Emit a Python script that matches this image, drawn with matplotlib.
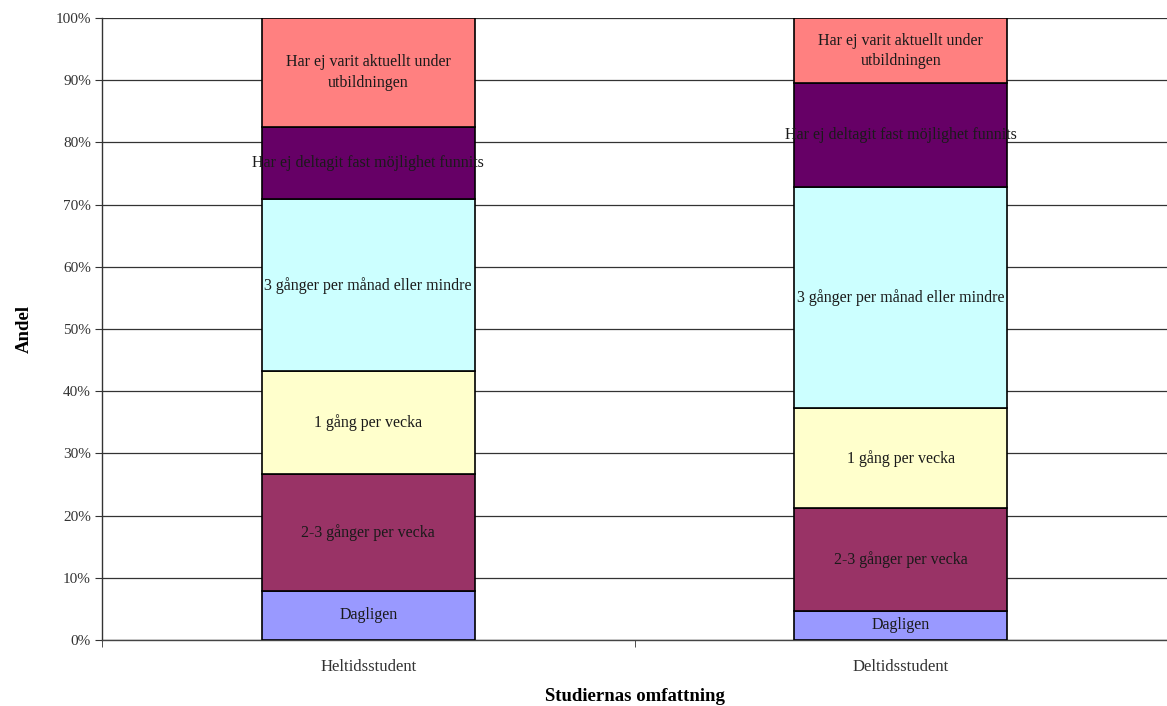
import matplotlib
matplotlib.use("Agg")
import matplotlib.pyplot as plt
import numpy as np

categories = ["Heltidsstudent", "Deltidsstudent"]
segments = [
    "Dagligen",
    "2-3 gånger per vecka",
    "1 gång per vecka",
    "3 gånger per månad eller mindre",
    "Har ej deltagit fast möjlighet funnits",
    "Har ej varit aktuellt under\nutbildningen",
]
# Shares (%) per category, bottom to top
heltid = [7.9, 18.8, 16.5, 27.7, 11.6, 17.5]
deltid = [4.7, 16.5, 16.1, 35.5, 16.7, 10.5]
colors = ["#9999FF", "#993366", "#FFFFCC", "#CCFFFF", "#660066", "#FF8080"]
y_ticks = [0, 10, 20, 30, 40, 50, 60, 70, 80, 90, 100]

plt.rcParams["font.family"] = ["Liberation Serif", "DejaVu Serif"]

fig = plt.figure(figsize=(11.67, 7.06), dpi=100)
ax = fig.add_axes([102 / 1167, 1 - 640 / 706, 1065 / 1167, 622 / 706])

x = np.arange(len(categories))
values = np.array([heltid, deltid])
bottom = np.zeros(len(categories))
for j, (name, col) in enumerate(zip(segments, colors)):
    v = values[:, j]
    ax.bar(x, v, bottom=bottom, width=0.4, color=col, edgecolor="black",
           linewidth=1.2, zorder=3)
    for xi, vi, bi in zip(x, v, bottom):
        ax.text(xi, bi + vi / 2, name, ha="center", va="center",
                fontsize=11.5, color="#1a1a1a", zorder=4, linespacing=1.35)
    bottom += v

ax.set_xlim(-0.5, 1.5)
ax.set_ylim(0, 100)
ax.set_yticks(y_ticks)
ax.set_yticklabels([f"{t}%" for t in y_ticks], fontsize=11, color="#333333")
ax.yaxis.grid(True, color="#333333", linewidth=0.9, zorder=0)
ax.set_xticks(x)
ax.set_xticklabels(categories, fontsize=12, color="#333333")
ax.set_xticks([-0.5, 0.5, 1.5], minor=True)
ax.tick_params(axis="x", which="major", length=0, pad=14)
ax.tick_params(axis="x", which="minor", length=5, direction="out", color="#333333")
ax.tick_params(axis="y", length=5, direction="out", color="#333333", pad=3)

for side in ["top", "right"]:
    ax.spines[side].set_visible(False)
ax.spines["left"].set_color("#333333")
ax.spines["bottom"].set_color("#444444")
ax.spines["left"].set_linewidth(1.0)
ax.spines["bottom"].set_linewidth(1.0)

ax.set_xlabel("Studiernas omfattning", fontsize=13.5, fontweight="bold", labelpad=9)
ax.set_ylabel("Andel", fontsize=13.5, fontweight="bold", labelpad=16)

fig.savefig("out.png", dpi=100, facecolor="white")
